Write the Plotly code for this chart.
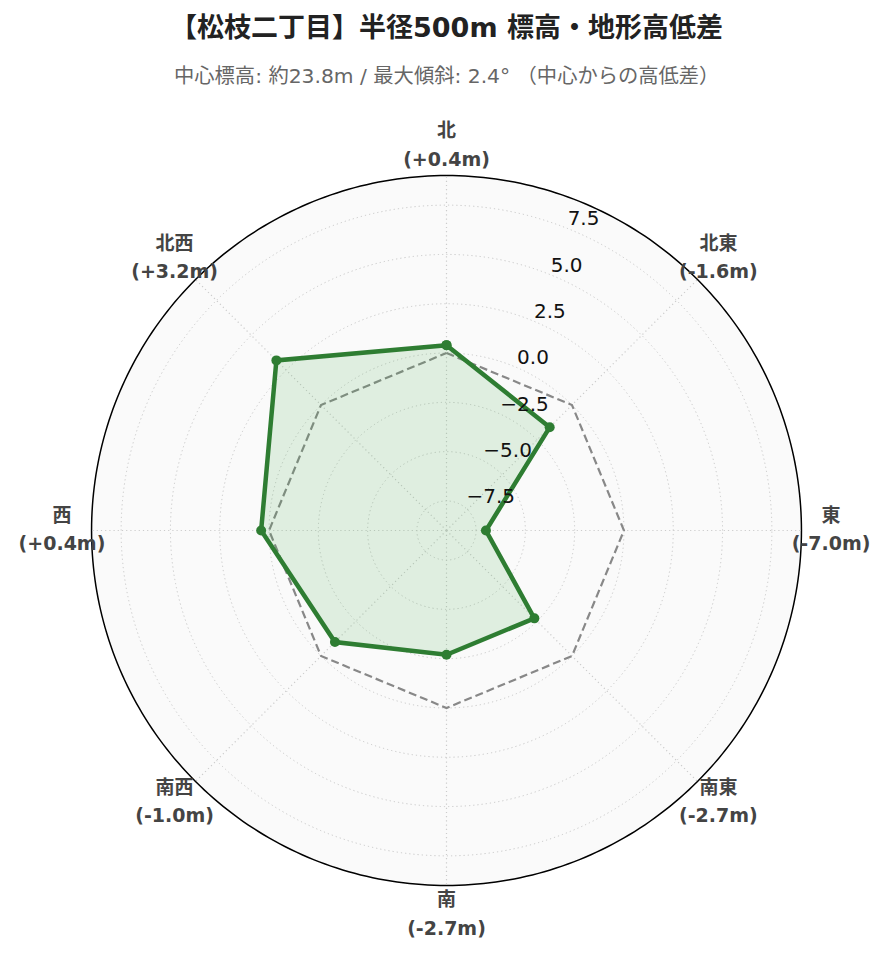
import plotly.graph_objects as go

directions = ["北", "北東", "東", "南東", "南", "南西", "西", "北西"]
angles = [0, 45, 90, 135, 180, 225, 270, 315]
diffs = [0.4, -1.6, -7.0, -2.7, -2.7, -1.0, 0.4, 3.2]
baseline = [0, 0, 0, 0, 0, 0, 0, 0]
radial_ticks = [-7.5, -5.0, -2.5, 0.0, 2.5, 5.0, 7.5]

R_MIN, R_MAX = -9, 9      # plotted radial extent (outer circle)
R_TOP = 10.6              # axis range top, leaves room for direction labels
LABEL_R = 10.5
FONT = "DejaVu Sans, Noto Sans CJK JP"

span = "<span style='font-size:19px'><b>{}</b></span>"
dir_labels = [span.format(d) + "<br>" + span.format(f"({v:+.1f}m)") for d, v in zip(directions, diffs)]

theta_closed = angles + [angles[0]]
circle_theta = list(range(0, 361))

# spokes from centre to outer circle
spoke_r, spoke_t = [], []
for a in angles:
    spoke_r += [R_MIN, R_MAX, None]
    spoke_t += [a, a, None]

fig = go.Figure()
# outer circle with light background
fig.add_trace(go.Scatterpolar(
    r=[R_MAX] * len(circle_theta), theta=circle_theta, mode="lines",
    line=dict(color="black", width=1.5),
    fill="toself", fillcolor="rgba(0,0,0,0.02)",
    hoverinfo="skip", showlegend=False,
))
fig.add_trace(go.Scatterpolar(
    r=spoke_r, theta=spoke_t, mode="lines",
    line=dict(color="#cccccc", width=1.2, dash="1.2px,3px"),
    hoverinfo="skip", showlegend=False,
))
fig.add_trace(go.Scatterpolar(
    r=baseline + [baseline[0]], theta=theta_closed, mode="lines",
    line=dict(color="#888888", width=2.2, dash="8px,4px"),
    hoverinfo="skip", showlegend=False,
))
fig.add_trace(go.Scatterpolar(
    r=diffs + [diffs[0]], theta=theta_closed, mode="lines+markers",
    line=dict(color="#2e7d32", width=4.5),
    marker=dict(size=10, color="#2e7d32"),
    fill="toself", fillcolor="rgba(76,175,80,0.15)",
    showlegend=False,
))
fig.add_trace(go.Scatterpolar(
    r=[LABEL_R] * len(angles), theta=angles, mode="text",
    text=dir_labels, textposition="middle center",
    textfont=dict(family=FONT, size=22, color="#444"),
    cliponaxis=False, hoverinfo="skip", showlegend=False,
))

fig.update_layout(
    width=889, height=962,
    paper_bgcolor="white",
    font=dict(family=FONT, size=15, color="#222"),
    margin=dict(l=52, r=64, t=136, b=53),
    title=dict(
        text="<b>【松枝二丁目】半径500m 標高・地形高低差</b>",
        x=0.5, xref="paper", xanchor="center",
        y=1 - 20 / 962, yref="container", yanchor="middle",
        font=dict(family=FONT, size=27, color="#222"),
    ),
    annotations=[dict(
        text="中心標高: 約23.8m / 最大傾斜: 2.4° （中心からの高低差）",
        x=0.5, xref="paper", xanchor="center",
        y=1 + (136 - 68) / 773, yref="paper", yanchor="middle",
        showarrow=False,
        font=dict(family=FONT, size=20.3, color="#666"),
    )],
    polar=dict(
        bgcolor="rgba(0,0,0,0)",
        domain=dict(x=[0, 1], y=[0, 1]),
        angularaxis=dict(
            rotation=90, direction="clockwise", thetaunit="degrees",
            tickmode="array", tickvals=angles, showticklabels=False,
            showline=False, showgrid=False, ticks="",
        ),
        radialaxis=dict(
            range=[R_MIN, R_TOP], tickmode="array", tickvals=radial_ticks,
            ticktext=[("−" if t < 0 else "") + f"{abs(t):.1f}<br> " for t in radial_ticks],
            angle=70, tickangle=70,
            showline=False, ticks="",
            gridcolor="#cccccc", griddash="1.2px,3px", gridwidth=1.2,
            tickfont=dict(family="DejaVu Sans", size=20, color="#111"),
        ),
    ),
)

fig.write_html("out.html")
